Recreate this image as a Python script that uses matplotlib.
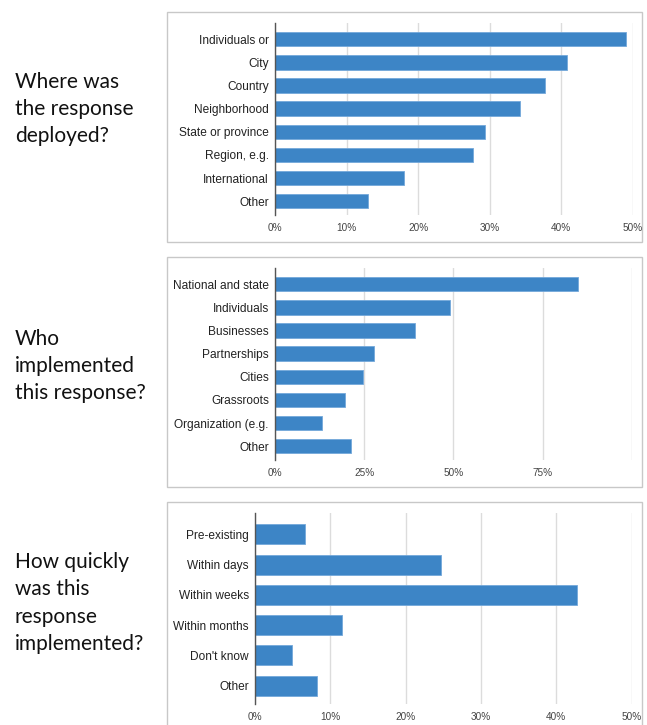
import matplotlib
matplotlib.use("Agg")
import matplotlib.pyplot as plt
from matplotlib.patches import Rectangle

# ---- data ----
where_labels = ["Individuals or", "City", "Country", "Neighborhood", "State or province",
                "Region, e.g.", "International", "Other"]
where_values = [49.1, 40.8, 37.7, 34.3, 29.4, 27.7, 18.0, 13.05]
where_ticks = [0, 10, 20, 30, 40, 50]
where_ticklabels = ["0%", "10%", "20%", "30%", "40%", "50%"]

who_labels = ["National and state", "Individuals", "Businesses", "Partnerships", "Cities",
              "Grassroots", "Organization (e.g.", "Other"]
who_values = [85.0, 49.0, 39.3, 27.8, 24.6, 19.5, 13.2, 21.3]
who_ticks = [0, 25, 50, 75, 100]
who_ticklabels = ["0%", "25%", "50%", "75%", ""]

how_labels = ["Pre-existing", "Within days", "Within weeks", "Within months", "Don't know", "Other"]
how_values = [6.6, 24.7, 42.7, 11.5, 4.95, 8.2]
how_ticks = [0, 10, 20, 30, 40, 50]
how_ticklabels = ["0%", "10%", "20%", "30%", "40%", "50%"]

questions = ["Where was\nthe response\ndeployed?",
             "Who\nimplemented\nthis response?",
             "How quickly\nwas this\nresponse\nimplemented?"]

W, H = 647, 725
fig = plt.figure(figsize=(W / 100, H / 100), dpi=100)
fig.patch.set_facecolor("white")


def fx(px):
    return px / W


def fy(py):
    return 1 - py / H


# panel boxes (drawn beneath the axes)
for (x0, y0, x1, y1) in [(167.3, 12.3, 642, 242.3), (167.3, 256.7, 642, 486.7), (167.3, 501.7, 642, 740)]:
    fig.patches.append(Rectangle((fx(x0), fy(y1)), fx(x1) - fx(x0), fy(y0) - fy(y1),
                                 transform=fig.transFigure, facecolor="white",
                                 edgecolor="#c8c8c8", linewidth=1.0, zorder=-5))

BAR = "#3d85c6"
label_font = ["Liberation Sans", "DejaVu Sans"]


def panel(rect_px, labels, values, ticks, ticklabels, xmax, ylim, barh):
    x0, y0, x1, y1 = rect_px
    ax = fig.add_axes([fx(x0), fy(y1), fx(x1) - fx(x0), fy(y0) - fy(y1)])
    ax.set_zorder(2)
    ax.set_facecolor("none")
    ypos = list(range(len(labels)))
    ax.barh(ypos, values, height=barh, color=BAR, edgecolor="#74a8da", linewidth=0.6, zorder=3)
    ax.set_xlim(0, xmax)
    ax.set_ylim(*ylim)
    ax.set_yticks(ypos)
    ax.set_yticklabels(labels, fontsize=8.6, color="#222222", family=label_font)
    ax.set_xticks(ticks)
    ax.set_xticklabels(ticklabels, fontsize=7.2, color="#444444", family=label_font)
    ax.tick_params(axis="both", length=0)
    ax.tick_params(axis="y", pad=4.5)
    ax.tick_params(axis="x", pad=5.5)
    ax.grid(axis="x", color="#dcdcdc", linewidth=1.0, zorder=0)
    ax.set_axisbelow(True)
    for s in ["top", "right", "bottom"]:
        ax.spines[s].set_visible(False)
    ax.spines["left"].set_color("#555555")
    ax.spines["left"].set_linewidth(1.0)
    ax.spines["left"].set_zorder(4)
    return ax


panel((275, 23.3, 632.7, 215), where_labels, where_values, where_ticks, where_ticklabels,
      50, (7.6, -0.69), 0.62)
panel((275, 268.3, 631.7, 460), who_labels, who_values, who_ticks, who_ticklabels,
      100, (7.6, -0.69), 0.62)
panel((255, 513.3, 631.7, 704), how_labels, how_values, how_ticks, how_ticklabels,
      50, (5.6, -0.69), 0.66)

# question texts
for q, yc in zip(questions, [109, 366, 603]):
    fig.text(fx(15), fy(yc), q, ha="left", va="center", fontsize=15,
             family=["Lato", "DejaVu Sans"], color="#111111", linespacing=1.45, zorder=3)

fig.savefig("out.png", dpi=100, facecolor="white")
